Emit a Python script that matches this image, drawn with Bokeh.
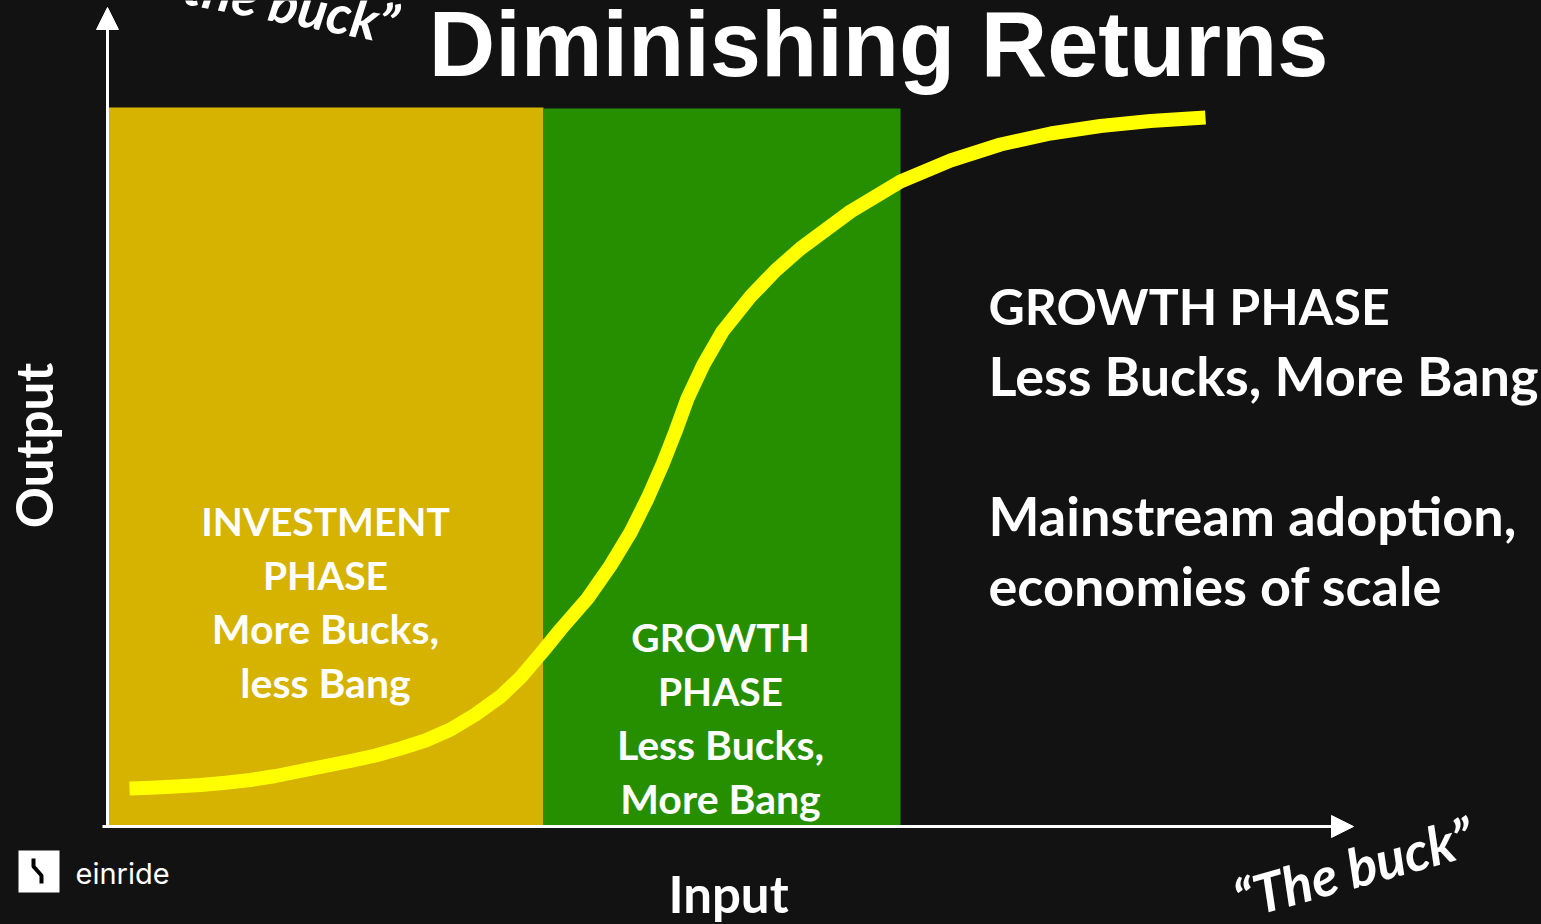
from bokeh.plotting import figure
from bokeh.models import Range1d, Arrow, NormalHead
from bokeh.core.properties import value
from bokeh.embed import file_html
from bokeh.resources import INLINE

# ---- data (Input / Output units) ----
curve_input = [2.4, 4.5, 7.0, 9.5, 12.0, 14.5, 17.0, 19.5, 22.0, 24.5, 27.0, 29.5, 32.0, 34.5, 37.0,
               39.5, 41.5, 43.8, 45.5, 48.2, 50.5, 52.5, 54.2, 55.7, 57.0, 58.2, 59.8, 61.7, 64.5,
               67.0, 69.5, 74.5, 79.5, 84.5, 89.5, 94.5, 99.5, 104.5, 110.0]
curve_output = [3.80, 3.88, 4.00, 4.15, 4.37, 4.65, 5.05, 5.55, 6.05, 6.55, 7.10, 7.80, 8.60, 9.70,
                11.20, 13.00, 14.90, 17.60, 19.70, 22.80, 26.10, 29.40, 32.80, 36.20, 39.50, 42.80,
                46.20, 49.50, 53.00, 55.60, 57.80, 61.50, 64.50, 66.60, 68.20, 69.30, 70.05, 70.55, 70.90]

phase_names = ["Investment", "Growth"]
phase_start = [0.3, 43.8]
phase_end = [43.8, 79.5]
phase_top = [71.9, 71.8]
phase_colors = ["#D5B300", "#268F00"]

invest_lines = ["INVESTMENT", "PHASE", "More Bucks,", "less Bang"]
growth_lines = ["GROWTH", "PHASE", "Less Bucks,", "More Bang"]
right_lines = ["GROWTH PHASE", "Less Bucks, More Bang", "Mainstream adoption,", "economies of scale"]

BG = "#121212"
FONT = "Lato"

p = figure(width=1541, height=924, x_range=Range1d(-10.5, 143.6), y_range=Range1d(-9.8, 82.6),
           output_backend="svg", toolbar_location=None, min_border=0)
p.axis.visible = False
p.grid.visible = False
p.background_fill_color = BG
p.border_fill_color = BG
p.outline_line_color = None

# phase blocks
p.quad(left=phase_start, right=phase_end, bottom=[0, 0], top=phase_top,
       fill_color=phase_colors, line_color=None)

# S-curve
p.line(curve_input, curve_output, line_color="#FFFF00", line_width=14, line_join="round", line_cap="butt")

# axes arrows
p.add_layout(Arrow(end=NormalHead(size=22, fill_color="white", line_color="white"),
                   x_start=0.2, y_start=-0.1, x_end=0.2, y_end=81.9,
                   line_color="white", line_width=3))
p.add_layout(Arrow(end=NormalHead(size=22, fill_color="white", line_color="white"),
                   x_start=-0.3, y_start=0, x_end=124.8, y_end=0,
                   line_color="white", line_width=3))

# phase texts
block_sizes = ["39px", "39px", "41px", "41px"]
p.text(x=[22.0] * 4, y=[30.6, 25.2, 19.8, 14.4], text=invest_lines, text_align="center",
       text_baseline="middle", text_color="white", text_font=value(FONT), text_font_style="bold",
       text_font_size=block_sizes)
p.text(x=[61.5] * 4, y=[19.0, 13.6, 8.2, 2.8], text=growth_lines, text_align="center",
       text_baseline="middle", text_color="white", text_font=value(FONT), text_font_style="bold",
       text_font_size=block_sizes)
p.text(x=[88.3] * 4, y=[52.1, 45.1, 31.1, 24.1], text=right_lines, text_align="left",
       text_baseline="middle", text_color="white", text_font=value(FONT), text_font_style="bold",
       text_font_size=["50px", "54px", "54px", "54px"])

# title
p.text(x=[77.3], y=[78.3], text=["Diminishing Returns"], text_align="center", text_baseline="middle",
       text_color="white", text_font=value("Liberation Sans"), text_font_style="bold",
       text_font_size="92px")

# axis labels
p.text(x=[62.3], y=[-6.7], text=["Input"], text_align="center", text_baseline="middle",
       text_color="white", text_font=value(FONT), text_font_style="bold", text_font_size="51px")
p.text(x=[-7.2], y=[38.1], text=["Output"], angle=1.5708, text_align="center", text_baseline="middle",
       text_color="white", text_font=value(FONT), text_font_style="bold", text_font_size="51px")

# tilted captions
p.text(x=[124.8], y=[-4.1], text=["\u201cThe buck\u201d"], angle=0.27, text_align="center",
       text_baseline="middle", text_color="white", text_font=value(FONT),
       text_font_style="bold italic", text_font_size="54px")
p.text(x=[29.3], y=[80.2], text=["\u201cBang for the buck\u201d"], angle=-0.19, text_align="right",
       text_baseline="alphabetic", text_color="white", text_font=value(FONT),
       text_font_style="bold italic", text_font_size="54px")

# einride logo
p.quad(left=[-8.7], right=[-4.6], bottom=[-6.6], top=[-2.4], fill_color="white", line_color=None)
p.line([-7.2, -7.2, -6.4, -6.4], [-3.2, -4.0, -4.9, -5.7], line_color="black", line_width=4)
p.text(x=[-3.0], y=[-4.7], text=["einride"], text_align="left", text_baseline="middle",
       text_color="white", text_font=value("Inter"), text_font_size="29px")

html = file_html(p, INLINE)
html = html.replace("<head>", "<head><style>html,body{margin:0;padding:0;background:#121212;overflow:hidden}</style>", 1)
open("out.html", "w").write(html)
